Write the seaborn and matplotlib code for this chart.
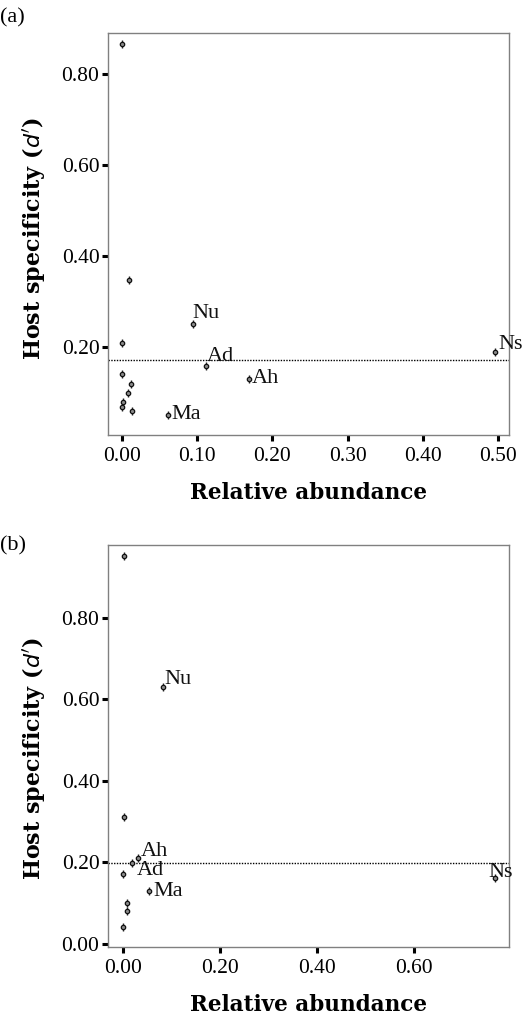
import matplotlib
matplotlib.use("Agg")
import matplotlib.pyplot as plt
import seaborn as sns
import pandas as pd

sns.set_theme(style="white")
plt.rcParams['font.family'] = ['Liberation Serif', 'DejaVu Serif']
plt.rcParams['text.color'] = 'black'
plt.rcParams['xtick.color'] = 'black'
plt.rcParams['ytick.color'] = 'black'
plt.rcParams['axes.labelcolor'] = 'black'

# Panel (a)
a_abund = [0.000, 0.009, 0.095, 0.000, 0.4955, 0.111, 0.000, 0.169, 0.0115, 0.0075, 0.001, 0.000, 0.0128, 0.0616]
a_spec  = [0.866, 0.348, 0.2505, 0.210, 0.189, 0.159, 0.1407, 0.131, 0.119, 0.100, 0.079, 0.0695, 0.0607, 0.052]
a_label = ["", "", "Nu", "", "Ns", "Ad", "", "Ah", "", "", "", "", "", "Ma"]
a_mean = 0.172

# Panel (b)
b_abund = [0.003, 0.084, 0.003, 0.032, 0.020, 0.000, 0.768, 0.055, 0.009, 0.009, 0.000]
b_spec  = [0.951, 0.631, 0.312, 0.2115, 0.199, 0.172, 0.163, 0.131, 0.101, 0.080, 0.042]
b_label = ["", "Nu", "", "Ah", "Ad", "", "Ns", "Ma", "", "", ""]
b_mean = 0.198

a_xticks = [0.0, 0.1, 0.2, 0.3, 0.4, 0.5]
a_yticks = [0.2, 0.4, 0.6, 0.8]
b_xticks = [0.0, 0.2, 0.4, 0.6]
b_yticks = [0.0, 0.2, 0.4, 0.6, 0.8]

fig = plt.figure(figsize=(5.26, 10.18), dpi=100)
ax_a = fig.add_axes([0.2048, 0.5727, 0.763, 0.3946])
ax_b = fig.add_axes([0.2048, 0.0700, 0.763, 0.3946])

a_off = {"Nu": (-1, 1, "left", "bottom"), "Ad": (1, 0, "left", "bottom"),
         "Ah": (2, 0, "left", "center"), "Ma": (2, 0, "left", "center"),
         "Ns": (3, -1, "left", "bottom")}
b_off = {"Nu": (1, -2, "left", "bottom"), "Ah": (2, -2, "left", "bottom"),
         "Ad": (3, 1, "left", "top"), "Ma": (3, -1, "left", "center"),
         "Ns": (-5, -3, "left", "bottom")}

def draw(ax, xs, ys, labels, mean, xlim, ylim, xticks, yticks, offs):
    df = pd.DataFrame({"x": xs, "y": ys})
    sns.scatterplot(data=df, x="x", y="y", ax=ax, marker="|", s=32,
                    color="#222222", linewidth=1.0, zorder=3)
    sns.scatterplot(data=df, x="x", y="y", ax=ax, marker="o", s=10,
                    facecolor="#888888", edgecolor="#111111", linewidth=0.9, zorder=4)
    ax.axhline(mean, color="black", linestyle=(0, (1, 1)), linewidth=1.0, zorder=2)
    for x, y, lab in zip(xs, ys, labels):
        if lab:
            dx, dy, ha, va = offs[lab]
            ax.annotate(lab, (x, y), xytext=(dx, dy), textcoords="offset points",
                        ha=ha, va=va, fontsize=16, annotation_clip=False,
                        clip_on=False, zorder=6, color="#111111",
                        family="Liberation Serif")
    ax.set_xlim(*xlim)
    ax.set_ylim(*ylim)
    ax.set_xticks(xticks)
    ax.set_yticks(yticks)
    ax.set_xticklabels([f"{t:.2f}" for t in xticks], fontsize=15.5, family="Liberation Serif")
    ax.set_yticklabels([f"{t:.2f}" for t in yticks], fontsize=15.5, family="Liberation Serif")
    ax.tick_params(axis="both", direction="out", length=4, width=2.2,
                   color="black", bottom=True, left=True)
    ax.tick_params(axis="x", pad=5)
    ax.tick_params(axis="y", pad=2)
    for sp in ax.spines.values():
        sp.set_color("#808080")
        sp.set_linewidth(1.0)
        sp.set_visible(True)
    ax.set_xlabel("Relative abundance", fontsize=15.5, fontweight="bold",
                  family="DejaVu Serif", labelpad=11)
    ax.set_ylabel("")

draw(ax_a, a_abund, a_spec, a_label, a_mean, (-0.019, 0.5146), (0.007, 0.89),
     a_xticks, a_yticks, a_off)
draw(ax_b, b_abund, b_spec, b_label, b_mean, (-0.031, 0.797), (-0.0066, 0.978),
     b_xticks, b_yticks, b_off)

for yc in [1 - 238 / 1018, 1 - 758 / 1018]:
    fig.text(0.064, yc, r"Host specificity ($\boldsymbol{d'}$)", rotation=90,
             ha="center", va="center", fontsize=16, fontweight="bold",
             family="DejaVu Serif")

fig.text(0.0, 1 - 18 / 1018, "(a)", fontsize=16, ha="left", va="center", family="Liberation Serif")
fig.text(0.0, 1 - 546 / 1018, "(b)", fontsize=16, ha="left", va="center", family="Liberation Serif")

fig.savefig("out.png", dpi=100)
